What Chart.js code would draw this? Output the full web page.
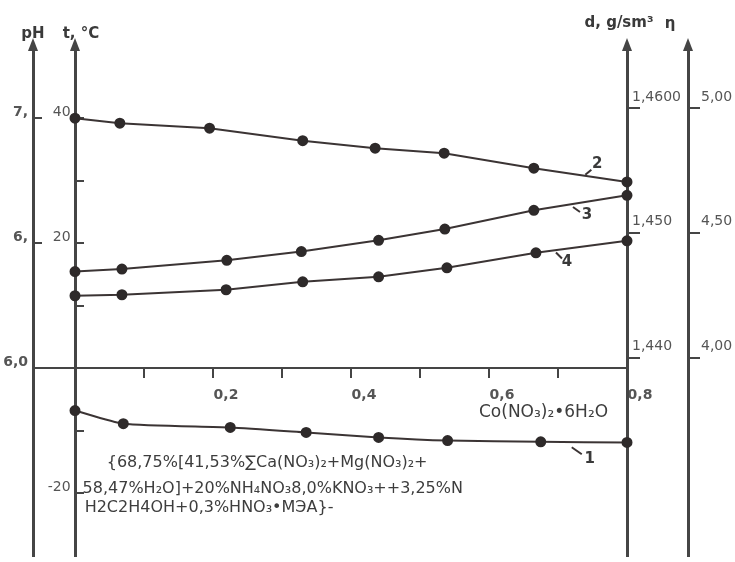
<!DOCTYPE html>
<html>
<head>
<meta charset="utf-8">
<script src="https://cdn.jsdelivr.net/npm/chart.js@4.4.1/dist/chart.umd.min.js"></script>
<style>
  html, body { margin: 0; padding: 0; background: #fff; }
  #wrap { width: 735px; height: 562px; position: relative; }
</style>
</head>
<body>
<div id="wrap"><canvas id="chart"></canvas></div>
<script>
// Co(NO3)2*6H2O content (x) and the four measured properties
const x1 = [0, 0.07, 0.225, 0.335, 0.44, 0.54, 0.675, 0.8];
const tCryst = [-6.8, -8.9, -9.5, -10.3, -11.1, -11.6, -11.8, -11.9];   // curve 1, t, °C

const x2 = [0, 0.065, 0.195, 0.33, 0.435, 0.535, 0.665, 0.8];
const phVals = [7.0, 6.98, 6.96, 6.91, 6.88, 6.86, 6.80, 6.745];      // curve 2, pH

const x3 = [0, 0.068, 0.22, 0.328, 0.44, 0.536, 0.665, 0.8];
const dVals = [1.4469, 1.4471, 1.4478, 1.4485, 1.4494, 1.4503, 1.4518, 1.4530]; // curve 3, d

const x4 = [0, 0.068, 0.219, 0.33, 0.44, 0.539, 0.668, 0.8];
const etaVals = [4.248, 4.252, 4.272, 4.304, 4.324, 4.36, 4.42, 4.468]; // curve 4, η

// tick values and their printed labels
const xTicks = [0, 0.1, 0.2, 0.3, 0.4, 0.5, 0.6, 0.7, 0.8];
const xTickLabels = ['', '', '0,2', '', '0,4', '', '0,6', '', '0,8'];
const tTicks = [-20, -10, 0, 10, 20, 30, 40];
const tTickLabels = ['-20 ', '', '', '', '20 ', '', '40 '];
const phTicks = [6.0, 6.5, 7.0];
const phTickLabels = ['6,0', '6,', '7,'];
const dTicks = [1.44, 1.45, 1.46];
const dTickLabels = ['1,440', '1,450', '1,4600'];
const etaTicks = [4.0, 4.5, 5.0];
const etaTickLabels = ['4,00', '4,50', '5,00'];

const ink = '#3b3434';
const axisInk = '#454545';
const labelInk = '#555';

function pts(xs, ys) {
    return xs.map((v, i) => ({ x: v, y: ys[i] }));
}

function fixedTicks(list) {
    return scale => { scale.ticks = list.map(v => ({ value: v })); };
}

// fixed box width, and no extra top/bottom room for the labels
function fixedWidth(w) {
    return scale => {
        scale.width = w;
        scale.paddingTop = 0;
        scale.paddingBottom = 0;
    };
}

function curve(label, xs, ys, axis, tension) {
    return {
        label: label,
        data: pts(xs, ys),
        yAxisID: axis,
        borderColor: ink,
        borderWidth: 2,
        pointRadius: 4.5,
        pointBackgroundColor: '#2e2a2a',
        pointBorderColor: '#2e2a2a',
        tension: tension || 0,
        clip: false
    };
}

// axis titles, arrow heads, notes and curve numbers
const decor = {
    id: 'decor',
    afterDraw(chart) {
        const ctx = chart.ctx;
        const xs = chart.scales.x;
        const ts = chart.scales.t;
        ctx.save();

        const titles = [
            { id: 'pH', text: 'pH', dx: 0, dy: -13 },
            { id: 't', text: 't, °C', dx: 6, dy: -13 },
            { id: 'd', text: 'd, g/sm³', dx: -8, dy: -24 },
            { id: 'eta', text: 'η', dx: -18, dy: -23 }
        ];
        titles.forEach(item => {
            const s = chart.scales[item.id];
            const pos = s.options.position;
            const bx = typeof pos === 'object' ? xs.getPixelForValue(pos.x)
                : (pos === 'left' ? s.right : s.left);
            ctx.fillStyle = axisInk;
            ctx.beginPath();
            ctx.moveTo(bx, s.top - 9);
            ctx.lineTo(bx - 5, s.top + 4);
            ctx.lineTo(bx + 5, s.top + 4);
            ctx.closePath();
            ctx.fill();
            ctx.fillStyle = '#3a3a3a';
            ctx.font = 'bold 15px "DejaVu Sans"';
            ctx.textAlign = 'center';
            ctx.textBaseline = 'middle';
            ctx.fillText(item.text, bx + item.dx, s.top + item.dy);
        });

        const notes = [
            { text: 'Co(NO₃)₂•6H₂O', x: 0.5855, t: -7.1, size: 17 },
            { text: '{68,75%[41,53%∑Ca(NO₃)₂+Mg(NO₃)₂+', x: 0.046, t: -15.1, size: 16 },
            { text: '58,47%H₂O]+20%NH₄NO₃8,0%KNO₃++3,25%N', x: 0.011, t: -19.3, size: 16 },
            { text: 'H2C2H4OH+0,3%HNO₃•MЭA}-', x: 0.014, t: -22.3, size: 16 }
        ];
        ctx.fillStyle = '#3d3d3d';
        ctx.textAlign = 'left';
        notes.forEach(n => {
            ctx.font = n.size + 'px "DejaVu Sans"';
            ctx.fillText(n.text, xs.getPixelForValue(n.x), ts.getPixelForValue(n.t));
        });

        const numbers = [
            { text: '2', x: 0.757, t: 32.7, lead: [-12, 11, -6, 6] },
            { text: '3', x: 0.742, t: 24.5, lead: [-14, -8, -7, -3] },
            { text: '4', x: 0.713, t: 16.9, lead: [-11, -10, -5, -4] },
            { text: '1', x: 0.746, t: -14.6, lead: [-18, -12, -8, -5] }
        ];
        ctx.font = 'bold 15px "DejaVu Sans"';
        ctx.textAlign = 'center';
        ctx.strokeStyle = ink;
        ctx.lineWidth = 2;
        numbers.forEach(n => {
            const px = xs.getPixelForValue(n.x);
            const py = ts.getPixelForValue(n.t);
            ctx.fillStyle = '#3a3a3a';
            ctx.fillText(n.text, px, py);
            ctx.beginPath();
            ctx.moveTo(px + n.lead[0], py + n.lead[1]);
            ctx.lineTo(px + n.lead[2], py + n.lead[3]);
            ctx.stroke();
        });
        ctx.restore();
    }
};

const tickFont = { family: 'DejaVu Sans', size: 14 };
const boldTickFont = { family: 'DejaVu Sans', size: 14, weight: 'bold' };

new Chart(document.getElementById('chart'), {
    type: 'line',
    data: {
        datasets: [
            curve('1', x1, tCryst, 't', 0.2),
            curve('2', x2, phVals, 'pH'),
            curve('3', x3, dVals, 'd'),
            curve('4', x4, etaVals, 'eta')
        ]
    },
    options: {
        responsive: true,
        maintainAspectRatio: false,
        animation: false,
        layout: { padding: { left: 0, right: 0, top: 47, bottom: 6 } },
        plugins: {
            legend: { display: false },
            tooltip: { enabled: false }
        },
        scales: {
            x: {
                type: 'linear',
                axis: 'x',
                position: { t: 0 },
                min: -0.06087,
                max: 0.8,
                afterBuildTicks: fixedTicks(xTicks),
                afterFit: s => { s.height = 0; },
                ticks: {
                    autoSkip: false,
                    maxRotation: 0,
                    padding: 10,
                    labelOffset: 13,
                    color: labelInk,
                    font: boldTickFont,
                    callback: (v, i) => xTickLabels[i]
                },
                grid: { drawOnChartArea: false, tickLength: 9, color: axisInk, lineWidth: 2 },
                border: { color: axisInk, width: 2 }
            },
            t: {
                type: 'linear',
                axis: 'y',
                position: { x: 0 },
                min: -30,
                max: 51.4,
                afterBuildTicks: fixedTicks(tTicks),
                afterFit: fixedWidth(0),
                ticks: {
                    autoSkip: false,
                    labelOffset: -6,
                    color: labelInk,
                    font: tickFont,
                    callback: (v, i) => tTickLabels[i]
                },
                grid: { drawOnChartArea: false, tickLength: -10, color: axisInk, lineWidth: 2 },
                border: { color: axisInk, width: 3 }
            },
            pH: {
                type: 'linear',
                axis: 'y',
                position: 'left',
                weight: 0,
                min: 5.25,
                max: 7.285,
                afterBuildTicks: fixedTicks(phTicks),
                afterFit: fixedWidth(33),
                ticks: {
                    autoSkip: false,
                    padding: 14,
                    labelOffset: -6,
                    color: labelInk,
                    font: boldTickFont,
                    callback: (v, i) => phTickLabels[i]
                },
                grid: { drawOnChartArea: false, tickLength: -9, color: axisInk, lineWidth: 2 },
                border: { color: axisInk, width: 3 }
            },
            d: {
                type: 'linear',
                axis: 'y',
                position: 'right',
                weight: 0,
                min: 1.42416,
                max: 1.46488,
                afterBuildTicks: fixedTicks(dTicks),
                afterFit: fixedWidth(61),
                ticks: {
                    autoSkip: false,
                    padding: -8,
                    labelOffset: -11,
                    color: labelInk,
                    font: tickFont,
                    callback: (v, i) => dTickLabels[i]
                },
                grid: { drawOnChartArea: false, tickLength: 13, color: axisInk, lineWidth: 2 },
                border: { color: axisInk, width: 3 }
            },
            eta: {
                type: 'linear',
                axis: 'y',
                position: 'right',
                weight: 1,
                min: 3.208,
                max: 5.244,
                afterBuildTicks: fixedTicks(etaTicks),
                afterFit: fixedWidth(47),
                ticks: {
                    autoSkip: false,
                    padding: 1,
                    labelOffset: -11,
                    color: labelInk,
                    font: tickFont,
                    callback: (v, i) => etaTickLabels[i]
                },
                grid: { drawOnChartArea: false, tickLength: 12, color: axisInk, lineWidth: 2 },
                border: { color: axisInk, width: 3 }
            }
        }
    },
    plugins: [decor]
});
</script>
</body>
</html>
